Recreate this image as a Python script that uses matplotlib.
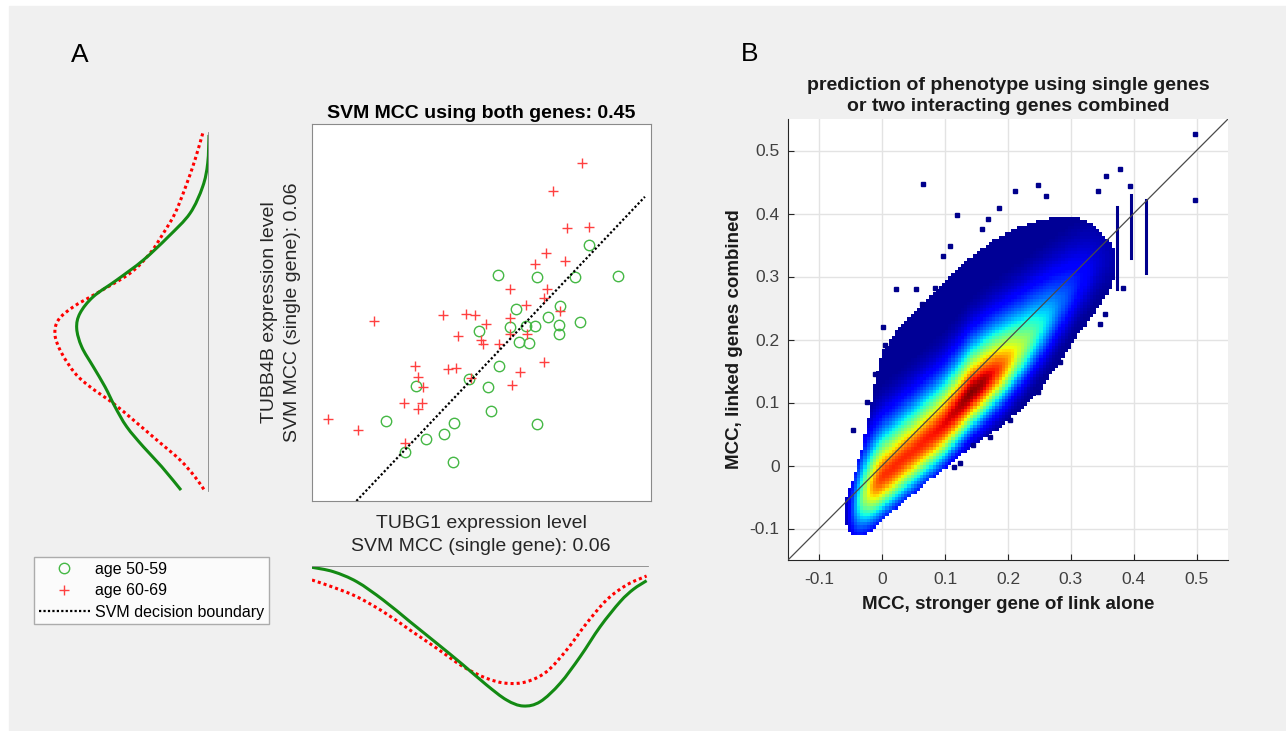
import numpy as np
import matplotlib
matplotlib.use("Agg")
import matplotlib.pyplot as plt
from matplotlib.patches import Rectangle, PathPatch
from matplotlib.path import Path
from matplotlib.lines import Line2D

plt.rcParams['font.family'] = ['Liberation Sans', 'DejaVu Sans']

# ---- panel A: expression levels (arbitrary units, 0-10)
young_x = [5.48, 6.65, 7.76, 9.04, 8.17, 6.01, 7.31, 6.95, 5.83, 6.31, 6.59, 7.29, 7.91, 7.29, 4.94,
           6.10, 6.39, 5.51, 4.62, 5.19, 3.07, 5.28, 2.18, 4.20, 6.64, 3.90, 3.37, 2.75, 4.17]
young_y = [5.99, 5.95, 5.94, 5.97, 6.80, 5.08, 5.16, 4.87, 4.62, 4.64, 4.64, 4.67, 4.76, 4.43, 4.51,
           4.21, 4.19, 3.58, 3.24, 3.03, 3.06, 2.40, 2.12, 2.07, 2.05, 1.77, 1.65, 1.29, 1.04]
old_x = [7.97, 7.11, 7.51, 8.18, 6.90, 6.59, 7.45, 5.85, 6.92, 6.84, 6.31, 5.83, 7.31, 1.82, 3.86,
         4.54, 4.81, 5.14, 4.32, 4.99, 5.04, 5.52, 5.83, 6.34, 3.03, 4.01, 4.25, 3.14, 3.27, 4.70,
         6.84, 6.13, 5.91, 2.70, 3.24, 3.12, 0.47, 1.37, 2.75]
old_y = [8.96, 8.21, 7.23, 7.27, 6.58, 6.28, 6.37, 5.62, 5.62, 5.38, 5.20, 4.86, 5.04, 4.78, 4.94,
         4.96, 4.94, 4.69, 4.37, 4.27, 4.16, 4.16, 4.42, 4.42, 3.59, 3.50, 3.54, 3.30, 3.02, 3.25,
         3.70, 3.41, 3.08, 2.59, 2.59, 2.44, 2.18, 1.88, 1.53]
svm_x = [1.31, 9.82]
svm_y = [0.0, 8.07]

# marginal densities of TUBB4B (left) and TUBG1 (bottom)
tubb_lvl_young = [9.71, 8.96, 8.34, 7.63, 7.01, 6.39, 5.86, 5.42, 4.98, 4.58, 4.09, 3.56, 3.03, 2.50,
                  1.97, 1.44, 0.91, 0.29]
tubb_den_young = [0.00, 0.013, 0.063, 0.19, 0.407, 0.657, 0.923, 1.157, 1.29, 1.323, 1.273, 1.157,
                  1.04, 0.94, 0.823, 0.657, 0.473, 0.28]
tubb_lvl_old = [9.75, 9.05, 8.34, 7.63, 7.10, 6.57, 6.04, 5.51, 5.15, 4.80, 4.40, 3.92, 3.39, 3.03,
                2.59, 2.15, 1.62, 1.09, 0.64, 0.29]
tubb_den_old = [0.063, 0.14, 0.233, 0.34, 0.457, 0.59, 0.79, 1.123, 1.357, 1.507, 1.54, 1.473, 1.34,
                1.19, 0.957, 0.757, 0.523, 0.29, 0.14, 0.047]

tubg_lvl_young = [0.0, 0.63, 1.32, 2.10, 2.89, 3.68, 4.46, 5.15, 5.74, 6.23, 6.73, 7.32, 7.91, 8.50,
                  9.09, 9.48, 9.87]
tubg_den_young = [0.013, 0.057, 0.157, 0.34, 0.557, 0.773, 0.99, 1.19, 1.34, 1.40, 1.357, 1.173,
                  0.907, 0.607, 0.357, 0.233, 0.147]
tubg_lvl_old = [0.0, 0.63, 1.32, 2.10, 2.89, 3.68, 4.46, 5.15, 5.74, 6.33, 6.92, 7.51, 8.10, 8.69,
                9.28, 9.87]
tubg_den_old = [0.14, 0.213, 0.307, 0.457, 0.64, 0.823, 1.007, 1.123, 1.173, 1.157, 1.057, 0.84,
                0.573, 0.34, 0.19, 0.10]

# ---- panel B: density cloud, read as column profiles
cloud_x = [-0.058, -0.05, -0.04, -0.03, -0.02, -0.01, 0.0, 0.02, 0.05, 0.08, 0.10, 0.12, 0.14,
           0.16, 0.18, 0.20, 0.22, 0.25, 0.28, 0.31, 0.34, 0.36, 0.37]
cloud_lo = [-0.095, -0.108, -0.112, -0.110, -0.105, -0.098, -0.088, -0.070, -0.045, -0.020, -0.005,
            0.012, 0.028, 0.042, 0.055, 0.072, 0.088, 0.118, 0.160, 0.205, 0.245, 0.275, 0.30]
cloud_hi = [-0.05, -0.03, 0.0, 0.035, 0.09, 0.14, 0.18, 0.21, 0.245, 0.275, 0.295, 0.315, 0.33,
            0.345, 0.36, 0.37, 0.38, 0.39, 0.395, 0.395, 0.38, 0.36, 0.34]
cloud_ridge = [-0.075, -0.07, -0.06, -0.048, -0.037, -0.027, -0.017, 0.0, 0.025, 0.05, 0.068, 0.092,
               0.115, 0.133, 0.15, 0.168, 0.188, 0.22, 0.255, 0.29, 0.32, 0.33, 0.33]
cloud_peak = [0.06, 0.15, 0.33, 0.52, 0.68, 0.8, 0.86, 0.87, 0.87, 0.89, 0.91, 0.95, 1.0, 0.97,
              0.88, 0.74, 0.58, 0.4, 0.25, 0.15, 0.08, 0.05, 0.04]

out_x = [0.064, 0.247, 0.211, 0.378, 0.356, 0.394, 0.119, 0.185, 0.108, 0.096, 0.022, 0.054, 0.001,
         0.004, 0.168, 0.158, 0.261, 0.343, 0.383, 0.354, 0.346, 0.063, 0.084, 0.498, 0.498, -0.047,
         -0.024, -0.011, 0.124, 0.114, 0.171, 0.203, 0.283, 0.248, 0.144]
out_y = [0.447, 0.446, 0.436, 0.471, 0.460, 0.443, 0.397, 0.409, 0.349, 0.332, 0.280, 0.280, 0.220,
         0.192, 0.391, 0.375, 0.428, 0.436, 0.282, 0.241, 0.225, 0.256, 0.282, 0.526, 0.422, 0.056,
         0.101, 0.146, 0.004, -0.002, 0.045, 0.073, 0.164, 0.117, 0.033]
streak_x = [0.419, 0.396, 0.373]
streak_lo = [0.305, 0.33, 0.28]
streak_hi = [0.422, 0.43, 0.41]

mcc_ticks = [-0.1, 0, 0.1, 0.2, 0.3, 0.4, 0.5]
mcc_labels = ['-0.1', '0', '0.1', '0.2', '0.3', '0.4', '0.5']

W, H = 1286, 731


def box(l, t, r, b):
    return [l / W, 1 - b / H, (r - l) / W, (b - t) / H]


def smooth_curve(ax, xs, ys, **kw):
    # draw a curve through the read points as Catmull-Rom bezier segments
    p = np.column_stack([xs, ys]).astype(float)
    q = np.vstack([p[0], p, p[-1]])
    verts = [p[0]]
    codes = [Path.MOVETO]
    for i in range(1, len(q) - 2):
        c1 = q[i] + (q[i + 1] - q[i - 1]) / 6
        c2 = q[i + 1] - (q[i + 2] - q[i]) / 6
        verts += [c1, c2, q[i + 1]]
        codes += [Path.CURVE4] * 3
    ax.add_patch(PathPatch(Path(verts, codes), fill=False, **kw))


fig = plt.figure(figsize=(W / 100, H / 100), dpi=100, facecolor='white')
fig.patches.append(Rectangle((9 / W, 0), 1, 1 - 6 / H, transform=fig.transFigure,
                             color='#f0f0f0', zorder=-10))

green = '#45b845'
red = '#ff4040'

# scatter
ax = fig.add_axes(box(312, 124, 651, 501))
ax.plot(young_x, young_y, 'o', mfc='none', mec=green, ms=7.5, mew=1.0, ls='none')
ax.plot(old_x, old_y, '+', color=red, ms=7.8, mew=1.0, ls='none')
ax.plot(svm_x, svm_y, color='black', lw=1.6, ls=(0, (1, 1)))
ax.set_xlim(0, 10)
ax.set_ylim(0, 10)
ax.set_xticks([])
ax.set_yticks([])
for s in ax.spines.values():
    s.set_color('#8a8a8a')
ax.set_title('SVM MCC using both genes: 0.45', fontsize=14, fontweight='bold', pad=4)

fig.text(281 / W, 1 - 312 / H, 'TUBB4B expression level\nSVM MCC (single gene): 0.06', rotation=90,
         ha='center', va='center', fontsize=14, color='#262626', linespacing=1.45)
fig.text(481 / W, 1 - 535 / H, 'TUBG1 expression level\nSVM MCC (single gene): 0.06',
         ha='center', va='center', fontsize=14, color='#262626', linespacing=1.45)

# left marginal
axl = fig.add_axes(box(49, 124, 209, 501))
axl.patch.set_visible(False)
axl.plot([0, 0], [min(tubb_lvl_young + tubb_lvl_old) - 0.02, max(tubb_lvl_young + tubb_lvl_old) + 0.01],
         color='#8c8c8c', lw=1.3)
smooth_curve(axl, tubb_den_old, tubb_lvl_old, edgecolor='red', lw=2.2, ls=(0, (1, 1)))
smooth_curve(axl, tubb_den_young, tubb_lvl_young, edgecolor='#138a13', lw=2.2)
axl.set_xlim(1.6, 0)
axl.set_ylim(0, 10)
axl.axis('off')

# bottom marginal
axb = fig.add_axes(box(312, 566, 651, 711))
axb.patch.set_visible(False)
axb.plot([0, 9.9], [0, 0], color='#8c8c8c', lw=1.3)
smooth_curve(axb, tubg_lvl_old, tubg_den_old, edgecolor='red', lw=2.2, ls=(0, (1, 1)))
smooth_curve(axb, tubg_lvl_young, tubg_den_young, edgecolor='#138a13', lw=2.2)
axb.set_xlim(0, 10)
axb.set_ylim(1.45, 0)
axb.axis('off')

# legend
handles = [Line2D([], [], marker='o', mfc='none', mec=green, ls='none', ms=7.5),
           Line2D([], [], marker='+', color=red, ls='none', ms=7.8),
           Line2D([], [], color='black', lw=1.6, ls=(0, (1, 1)))]
leg = fig.legend(handles, ['age 50-59', 'age 60-69', 'SVM decision boundary'],
                 loc='upper left', bbox_to_anchor=(34 / W, 1 - 557 / H), fontsize=11.5,
                 frameon=True, fancybox=False, handlelength=3.2, handletextpad=0.35,
                 borderpad=0.3, labelspacing=0.4, borderaxespad=0)
leg.get_frame().set_edgecolor('#9a9a9a')
leg.get_frame().set_linewidth(1.0)

fig.text(80 / W, 1 - 55 / H, 'A', fontsize=19, ha='center', va='center')
fig.text(750 / W, 1 - 54 / H, 'B', fontsize=19, ha='center', va='center')

# panel B
axr = fig.add_axes(box(788, 119, 1228, 560))
gx = np.arange(-0.07, 0.385, 0.005)
gy = np.arange(-0.13, 0.425, 0.005)
X, Y = np.meshgrid(gx[:-1] + 0.0025, gy[:-1] + 0.0025)
lo = np.interp(X, cloud_x, cloud_lo)
hi = np.interp(X, cloud_x, cloud_hi)
mid = np.interp(X, cloud_x, cloud_ridge)
pk = np.interp(X, cloud_x, cloud_peak)
d = Y - mid
lev = np.where(d > 0, pk * np.exp(-(np.abs(d) / 0.065) ** 1.6), pk * np.exp(-(d / 0.052) ** 2))
lev = np.maximum(lev, 0.02)
inside = (Y >= lo) & (Y <= hi) & (X >= cloud_x[0]) & (X <= cloud_x[-1])
lev = np.ma.masked_where(~inside, lev)
axr.pcolormesh(gx, gy, lev, cmap='jet', vmin=0, vmax=1, shading='flat', zorder=2)
axr.plot(out_x, out_y, 's', color='#00008c', ms=2.8, ls='none', zorder=2)
for sx, slo, shi in zip(streak_x, streak_lo, streak_hi):
    axr.plot([sx, sx], [slo, shi], color='#00008c', lw=2.2, zorder=2)
axr.plot([-0.15, 0.55], [-0.15, 0.55], color='#4a4a4a', lw=0.9, zorder=3)
axr.set_xlim(-0.15, 0.55)
axr.set_ylim(-0.15, 0.55)
axr.set_xticks(mcc_ticks)
axr.set_xticklabels(mcc_labels)
axr.set_yticks(mcc_ticks)
axr.set_yticklabels(mcc_labels)
axr.grid(True, color='#e3e3e3', lw=1.0)
axr.set_axisbelow(True)
axr.tick_params(direction='in', length=4, labelsize=12.5, colors='#262626', labelcolor='#404040')
axr.tick_params(axis='x', pad=9)
axr.tick_params(axis='y', pad=6)
axr.spines['top'].set_visible(False)
axr.spines['right'].set_visible(False)
for s in ['left', 'bottom']:
    axr.spines[s].set_color('#262626')
axr.set_title('prediction of phenotype using single genes\nor two interacting genes combined',
              fontsize=14, fontweight='bold', color='#1a1a1a', pad=6, linespacing=1.3)
axr.set_xlabel('MCC, stronger gene of link alone', fontsize=13.5, fontweight='bold', color='#1a1a1a',
               labelpad=6)
axr.set_ylabel('MCC, linked genes combined', fontsize=13.5, fontweight='bold', color='#1a1a1a',
               labelpad=5)

fig.savefig('out.png', dpi=100, facecolor=fig.get_facecolor())
